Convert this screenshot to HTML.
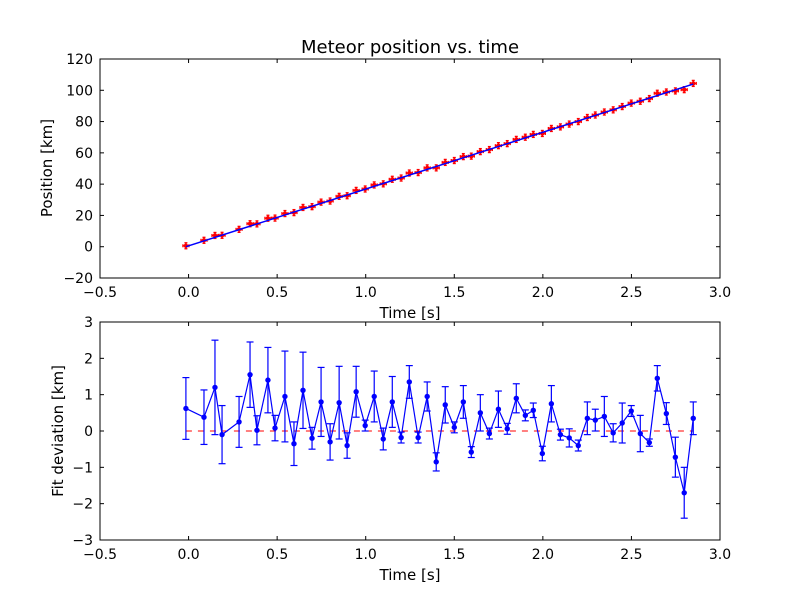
<!DOCTYPE html>
<html><head><meta charset="utf-8"><style>
body{margin:0;background:#fff}
svg{display:block;font-family:"DejaVu Sans","Liberation Sans",sans-serif}
</style></head><body>
<svg id="c" width="800" height="600"></svg>
<script>
const times=[-0.015,0.087,0.149,0.189,0.285,0.347,0.386,0.448,0.488,0.544,0.595,0.646,0.697,0.748,0.799,0.850,0.895,0.946,0.997,1.048,1.099,1.150,1.200,1.246,1.296,1.347,1.398,1.449,1.500,1.551,1.596,1.647,1.698,1.749,1.799,1.850,1.901,1.946,1.997,2.048,2.099,2.149,2.200,2.251,2.296,2.347,2.397,2.448,2.499,2.550,2.601,2.646,2.697,2.748,2.798,2.849];
const positions=[0.6,4.1,7.2,7.3,11.1,14.7,14.6,18.2,18.3,21.2,21.8,25.1,25.6,28.5,29.2,32.2,32.6,36.0,36.9,39.5,40.2,43.1,43.9,47.1,47.4,50.4,50.4,53.9,55.1,57.6,57.9,60.8,62.1,64.6,65.9,68.6,70.0,71.8,72.4,75.6,76.6,78.4,80.0,82.6,84.2,86.1,87.5,89.6,91.8,93.0,94.7,98.1,98.9,99.6,100.4,104.4];
const deviations=[0.62,0.38,1.2,-0.1,0.25,1.55,0.02,1.4,0.08,0.95,-0.35,1.12,-0.2,0.8,-0.3,0.78,-0.4,1.08,0.15,0.95,-0.22,0.8,-0.18,1.35,-0.18,0.95,-0.85,0.72,0.1,0.8,-0.58,0.5,-0.07,0.6,0.06,0.9,0.43,0.57,-0.62,0.75,-0.1,-0.19,-0.4,0.35,0.3,0.4,-0.05,0.22,0.55,-0.07,-0.32,1.45,0.48,-0.72,-1.7,0.35];
const errors=[0.85,0.75,1.3,0.8,0.7,0.9,0.4,0.9,0.35,1.25,0.6,1.05,0.3,0.95,0.5,1.0,0.35,0.7,0.15,0.7,0.3,0.7,0.15,0.45,0.15,0.4,0.25,0.5,0.15,0.45,0.15,0.5,0.15,0.5,0.15,0.4,0.15,0.2,0.2,0.5,0.15,0.25,0.15,0.45,0.3,0.55,0.25,0.55,0.15,0.5,0.1,0.35,0.3,0.55,0.7,0.45];
const fitT=[-0.015,2.849];
const fitP=[0.0,104.0];
const xTicks=[-0.5,0.0,0.5,1.0,1.5,2.0,2.5,3.0];
const yTicksTop=[-20,0,20,40,60,80,100,120];
const yTicksBot=[-3,-2,-1,0,1,2,3];

const svg=document.getElementById('c');
const NS='http://www.w3.org/2000/svg';
function el(tag,attrs,parent){const e=document.createElementNS(NS,tag);for(const k in attrs)e.setAttribute(k,attrs[k]);(parent||svg).appendChild(e);return e;}
const X0=100,X1=720;
const sx=t=>X0+(t+0.5)/3.5*(X1-X0);
const syT=v=>278-(v+20)/140*(278-59);
const syB=v=>540-(v+3)/6*(540-322);

function axes(top,bot,yt,sy,fmtY,name){
  const g=el('g',{});
  
  
  el('rect',{x:X0,y:top,width:X1-X0,height:bot-top,fill:'none',stroke:'#000','stroke-width':1},g);
  xTicks.forEach(t=>{const x=sx(t);
    el('line',{x1:x,x2:x,y1:bot,y2:bot-4,stroke:'#000'},g);
    el('line',{x1:x,x2:x,y1:top,y2:top+4,stroke:'#000'},g);
    const tx=el('text',{x:x,y:bot+19,'text-anchor':'middle','font-size':14},g);tx.textContent=t.toFixed(1).replace('-','\u2212');
    
    });
  yt.forEach(v=>{const y=sy(v);
    el('line',{x1:X0,x2:X0+4,y1:y,y2:y,stroke:'#000'},g);
    el('line',{x1:X1,x2:X1-4,y1:y,y2:y,stroke:'#000'},g);
    const tx=el('text',{x:X0-7,y:y+5,'text-anchor':'end','font-size':14},g);tx.textContent=fmtY(v);
    
    });
}
const fy=v=>String(v).replace('-','\u2212');
axes(59,278,yTicksTop,syT,fy,'top-axes');
axes(322,540,yTicksBot,syB,fy,'bottom-axes');

function label(x,y,txt,size,name,rot){const t=el('text',{x:x,y:y,'text-anchor':'middle','font-size':size});
  if(rot)t.setAttribute('transform','rotate(-90 '+x+' '+y+')');
  t.textContent=txt;
  
  }
label(410,53,'Meteor position vs. time',18,'chart-title');
label(410,318,'Time [s]',15,'top-x-axis-title');
label(410,580,'Time [s]',15,'bottom-x-axis-title');
label(52,168,'Position [km]',15,'top-y-axis-title',true);
label(63,431,'Fit deviation [km]',15,'bottom-y-axis-title',true);

// top: data points
times.forEach((t,i)=>{const x=sx(t),y=syT(positions[i]);
  const g=el('g',{stroke:'#f00','stroke-width':1.3});
  
  
  el('line',{x1:x-3,x2:x+3,y1:y,y2:y},g);
  el('line',{x1:x,x2:x,y1:y-3,y2:y+3},g);
  el('line',{x1:x-3,x2:x-3,y1:y-1.5,y2:y+1.5},g);
  el('line',{x1:x+3,x2:x+3,y1:y-1.5,y2:y+1.5},g);
  el('line',{x1:x-1.5,x2:x+1.5,y1:y-3,y2:y-3},g);
  el('line',{x1:x-1.5,x2:x+1.5,y1:y+3,y2:y+3},g);
  el('circle',{cx:x,cy:y,r:2.2,fill:'#f00',stroke:'none'},g);});
const fit=el('polyline',{points:fitT.map((t,i)=>sx(t)+','+syT(fitP[i])).join(' '),fill:'none',stroke:'#00f','stroke-width':1.5});



// bottom
const zl=el('line',{x1:sx(fitT[0]),x2:sx(fitT[1]),y1:syB(0),y2:syB(0),stroke:'#f00','stroke-dasharray':'6,6','stroke-width':1});


times.forEach((t,i)=>{const x=sx(t),y1=syB(deviations[i]-errors[i]),y2=syB(deviations[i]+errors[i]);
  const g=el('g',{stroke:'#00f','stroke-width':1.2});
  
  
  el('line',{x1:x,x2:x,y1:y1,y2:y2},g);
  el('line',{x1:x-3.5,x2:x+3.5,y1:y1,y2:y1},g);
  el('line',{x1:x-3.5,x2:x+3.5,y1:y2,y2:y2},g);});
const dl=el('polyline',{points:times.map((t,i)=>sx(t)+','+syB(deviations[i])).join(' '),fill:'none',stroke:'#00f','stroke-width':1.2});


times.forEach((t,i)=>{const c=el('circle',{cx:sx(t),cy:syB(deviations[i]),r:2.7,fill:'#00f'});
  
  });
</script>
</body></html>
